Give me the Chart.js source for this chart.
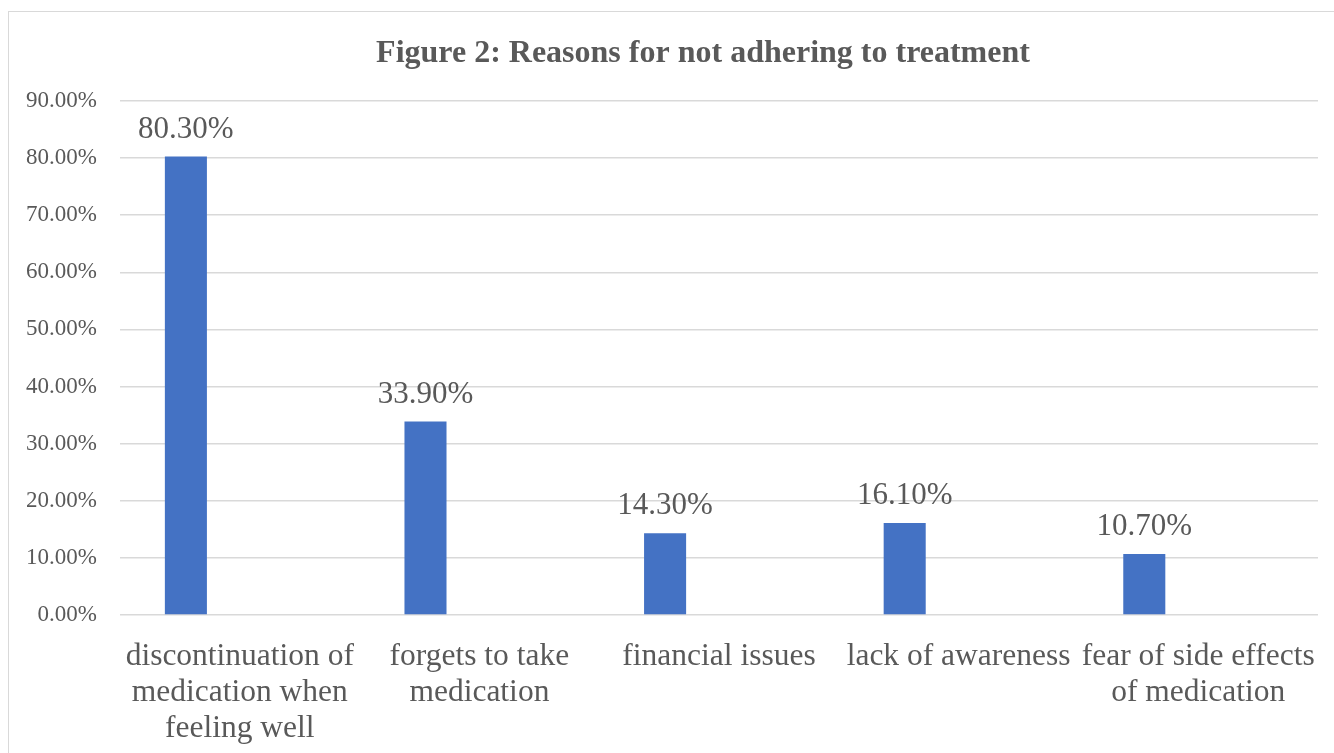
<!DOCTYPE html>
<html>
<head>
<meta charset="utf-8">
<script src="https://cdn.jsdelivr.net/npm/chart.js@4"></script>
<style>
  html, body { margin: 0; padding: 0; background: #fff; overflow: hidden; }
  #wrap { position: relative; width: 1334px; height: 753px; }
  #frame { position: absolute; left: 8px; top: 11px; width: 1400px; height: 800px; border: 1px solid #d9d9d9; box-sizing: border-box; }
  #chart { position: absolute; left: 0; top: 0; }
</style>
</head>
<body>
<div id="wrap">
  <div id="frame"></div>
  <canvas id="chart" width="1334" height="753"></canvas>
</div>
<script>
const titulo = 'Figure 2: Reasons for not adhering to treatment';
const categorias = [
  ['discontinuation of', 'medication when', 'feeling well'],
  ['forgets to take', 'medication'],
  'financial issues',
  'lack of awareness',
  ['fear of side effects', 'of medication']
];
const percentuais = [80.3, 33.9, 14.3, 16.1, 10.7];
const vazio = [null, null, null, null, null];
const ticksY = [0, 10, 20, 30, 40, 50, 60, 70, 80, 90];

const cinza = '#595959';
const fonte = '"Liberation Serif", "Times New Roman", serif';

// rótulos de valor acima das barras
const rotulos = {
  id: 'rotulos',
  afterDatasetsDraw(chart) {
    const ctx = chart.ctx;
    const meta = chart.getDatasetMeta(0);
    ctx.save();
    ctx.font = '31px ' + fonte;
    ctx.fillStyle = cinza;
    ctx.textAlign = 'center';
    ctx.textBaseline = 'middle';
    meta.data.forEach((bar, i) => {
      ctx.fillText(percentuais[i].toFixed(2) + '%', bar.x, bar.y - 27);
    });
    ctx.restore();
  }
};

// título centralizado na moldura
const tituloPlugin = {
  id: 'tituloPlugin',
  afterDraw(chart) {
    const ctx = chart.ctx;
    ctx.save();
    ctx.font = 'bold 32px ' + fonte;
    ctx.fillStyle = cinza;
    ctx.textAlign = 'center';
    ctx.textBaseline = 'middle';
    ctx.fillText(titulo, 703, 54);
    ctx.restore();
  }
};

new Chart(document.getElementById('chart'), {
  type: 'bar',
  data: {
    labels: categorias,
    datasets: [
      { data: percentuais, backgroundColor: '#4472c4', categoryPercentage: 0.9, barPercentage: 0.39 },
      { data: vazio, backgroundColor: '#ed7d31', categoryPercentage: 0.9, barPercentage: 0.39 }
    ]
  },
  options: {
    responsive: false,
    animation: false,
    layout: { padding: { top: 101, right: 16, left: 0, bottom: 0 } },
    plugins: { legend: { display: false }, title: { display: false }, tooltip: { enabled: false } },
    scales: {
      x: {
        grid: { display: false },
        border: { display: false },
        afterFit(axis) { axis.height = 138; },
        ticks: {
          autoSkip: false,
          maxRotation: 0,
          minRotation: 0,
          padding: 16,
          color: cinza,
          font: { family: fonte, size: 31.5, lineHeight: 1.14 }
        }
      },
      y: {
        min: 0,
        max: 90,
        afterFit(axis) { axis.width = 120; },
        afterBuildTicks(axis) { axis.ticks = ticksY.map(v => ({ value: v })); },
        grid: { color: '#d9d9d9', lineWidth: 1.5, drawTicks: false },
        border: { display: false },
        ticks: {
          padding: 23,
          color: cinza,
          font: { family: fonte, size: 23 },
          callback: v => v.toFixed(2) + '%'
        }
      }
    }
  },
  plugins: [rotulos, tituloPlugin]
});
</script>
</body>
</html>
